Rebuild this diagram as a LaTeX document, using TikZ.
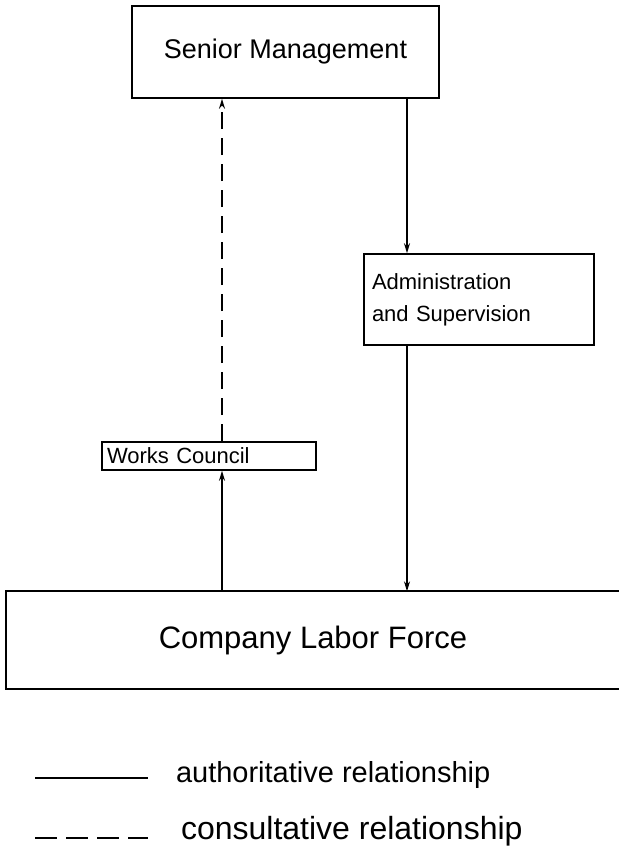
\documentclass[tikz,border=0pt]{standalone}
\usepackage{fontspec}
\setmainfont{Liberation Sans}
\usepackage{tikz}
\usetikzlibrary{positioning}
\usetikzlibrary{arrows.meta}

\begin{document}
\begin{tikzpicture}[x=1pt, y=-1pt, line width=1.4pt, >={Stealth[length=10pt,width=6pt]},
	unit/.style={draw, line width=1.6pt, inner sep=0pt},
	authority/.style={line width=1.4pt},
	consult/.style={line width=1.4pt, dash pattern=on 17pt off 9pt}]
	\useasboundingbox (0,0) rectangle (619,847);
	\coordinate (cx) at (222,0);
	\coordinate (ax) at (407,0);

	\node[unit, minimum width=307pt, minimum height=92pt, font=\fontsize{27}{32}\selectfont] (sm)  at (285.5,52)
		{Senior Management};
	\node[unit, minimum width=230pt, minimum height=91pt, text width=214pt, align=left,
		font=\fontsize{22}{32}\selectfont] (as)  at (479,299.5)
		{Administration\\ and Supervision};
	\node[unit, minimum width=214pt, minimum height=28pt, text width=204pt, align=left,
		font=\fontsize{22}{24}\selectfont] (wc)  at (209,456)
		{Works Council};
	\node[minimum width=612pt, minimum height=96pt, inner sep=0pt, font=\fontsize{31}{36}\selectfont] (clf) at (313,640)
		{Company Labor Force};
	\draw[line width=2.2pt] (clf.north east) -- (clf.north west) -- (clf.south west) -- (clf.south east);

	\draw[consult, ->] (wc.north -| cx) -- (sm.south -| cx);
	\draw[authority, ->] (sm.south -| ax) -- (as.north -| ax);
	\draw[authority, ->] (as.south -| ax) -- (clf.north -| ax);
	\draw[authority, ->] (clf.north -| cx) -- (wc.south -| cx);

	% legend
	\node[anchor=west, font=\fontsize{29}{34}\selectfont] (la) at (172,775) {authoritative relationship};
	\node[anchor=west, font=\fontsize{32}{36}\selectfont] (lc) at (177,831) {consultative relationship};
	\draw[authority] (35,778) -- (148,778);
	\draw[consult, dash pattern=on 22pt off 9pt] (35,838) -- (148,838);
\end{tikzpicture}
\end{document}
